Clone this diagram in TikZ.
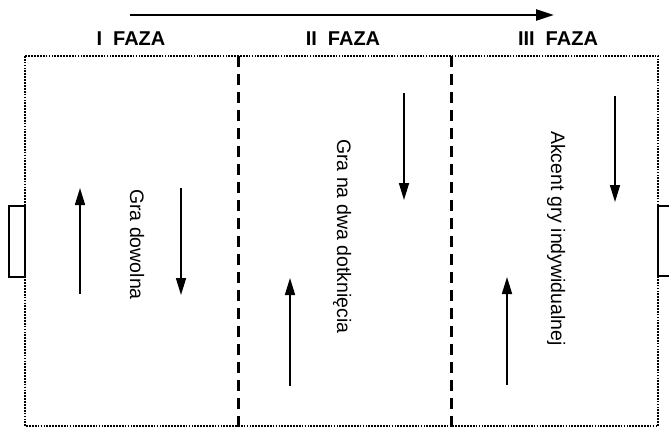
\documentclass[tikz,border=0pt]{standalone}
\usepackage{fontspec}
\setmainfont{Liberation Sans}
\usetikzlibrary{arrows.meta}
\begin{document}
\begin{tikzpicture}[x=1pt,y=-1pt,
  field/.style={line width=2.2pt, dash pattern=on 1.7pt off 1.2pt},
  divider/.style={line width=3pt, dash pattern=on 11pt off 7pt},
  goal/.style={line width=2.8pt},
  move/.style={line width=1.6pt, -{Triangle[length=17pt,width=10pt]}},
  phase/.style={font=\bfseries\fontsize{20}{22}\selectfont, anchor=base, inner sep=0pt},
  drill/.style={font=\fontsize{19.5}{21}\selectfont, rotate=-90, anchor=base west, inner sep=0pt},
  timeline/.style={line width=2.6pt, -{Triangle[length=18pt,width=11pt]}}]
\useasboundingbox (0,0) rectangle (669,428);
\fill[white] (0,0) rectangle (669,428);

% pitch outline and goals
\draw[field] (25,56) rectangle (658,426);
\draw[goal] (9,206) rectangle (25,277);
\draw[goal] (672,206) -- (658,206) -- (658,276) -- (672,276);

% phase dividers
\draw[divider] (238,56) -- (238,428);
\draw[divider] (451,56) -- (451,428);

% time line
\coordinate (t0) at (130,15);
\coordinate (t1) at (554,15);
\draw[timeline] (t0) -- (t1);

% phase titles
\node[phase] (p1) at (131,46) {I\hspace{0.55em}FAZA};
\node[phase] (p2) at (343,46) {II\hspace{0.55em}FAZA};
\node[phase] (p3) at (558,46) {III\hspace{0.55em}FAZA};

% phase I
\coordinate (a1s) at (80,294);  \coordinate (a1e) at (80,188);
\coordinate (b1s) at (181,188); \coordinate (b1e) at (181,295);
\draw[move] (a1s) -- (a1e);
\draw[move] (b1s) -- (b1e);
\node[drill] (d1) at (130,189) {Gra dowolna};

% phase II
\coordinate (a2s) at (290,386); \coordinate (a2e) at (290,278);
\coordinate (b2s) at (404,93);  \coordinate (b2e) at (404,200);
\draw[move] (a2s) -- (a2e);
\draw[move] (b2s) -- (b2e);
\node[drill] (d2) at (337,139) {Gra na dwa dotknięcia};

% phase III
\coordinate (a3s) at (507,385); \coordinate (a3e) at (507,277);
\coordinate (b3s) at (615,96);  \coordinate (b3e) at (615,202);
\draw[move] (a3s) -- (a3e);
\draw[move] (b3s) -- (b3e);
\node[drill] (d3) at (551,131) {Akcent gry indywidualnej};
\end{tikzpicture}
\end{document}
